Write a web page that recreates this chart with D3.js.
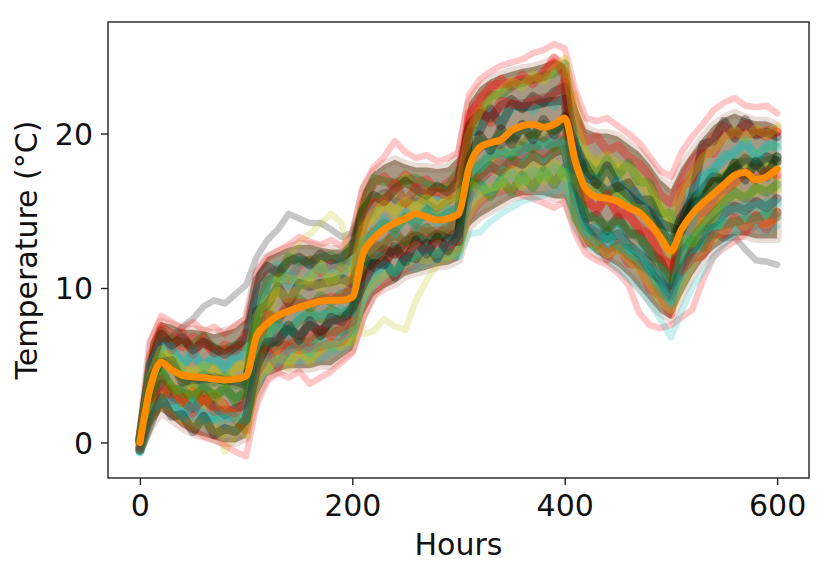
<!DOCTYPE html>
<html><head><meta charset="utf-8">
<script src="https://cdn.jsdelivr.net/npm/d3@7"></script>
<style>body{margin:0;background:#fff}svg{display:block}</style>
</head><body><svg id="c" width="832" height="577"></svg>
<script>
// ---- data ----
const hours = [0,10,20,30,40,50,60,70,80,90,100,110,120,130,140,150,160,170,180,190,200,210,220,230,240,250,260,270,280,290,300,310,320,330,340,350,360,370,380,390,400,410,420,430,440,450,460,470,480,490,500,510,520,530,540,550,560,570,580,590,600];
const xTickValues = [0,200,400,600];
const yTickValues = [0,10,20];

const meanTemp = [0,3.6,5.2,4.7,4.35,4.25,4.2,4.1,4.05,4.1,4.3,6.9,7.7,8.2,8.5,8.75,8.95,9.15,9.2,9.2,9.4,12.2,13.2,13.8,14.2,14.5,14.8,14.6,14.4,14.5,14.8,17.8,19.1,19.4,19.6,20.2,20.5,20.6,20.4,20.6,21.0,18.2,16.4,15.9,15.8,15.6,15.2,14.9,14.2,13.3,12.4,13.8,14.8,15.5,16.1,16.7,17.3,17.5,17.0,17.2,17.7];

const bandLow = [-0.5,1.0,2.0,1.5,1.0,0.6,0.4,0.2,0.0,0.0,0.3,3.0,4.3,4.6,4.8,4.8,4.8,5.0,5.0,5.5,6.0,8.2,9.5,10.0,10.3,10.8,11.0,11.2,11.4,11.5,11.8,14.0,14.6,15.0,15.4,15.8,16.0,16.0,16.0,15.8,15.8,14.0,12.8,12.2,11.8,11.4,10.8,10.0,9.2,8.4,8.0,9.5,10.8,11.8,12.5,13.0,13.4,13.4,13.2,13.2,13.2];
const bandHigh = [0.3,6.5,7.8,7.6,7.3,7.3,7.2,7.0,7.2,7.4,8.0,11.0,12.0,12.3,12.6,12.8,12.8,12.6,12.5,12.5,13.2,16.3,17.5,18.0,18.3,18.0,17.8,17.8,17.7,17.8,18.5,22.0,23.0,23.5,23.8,24.0,24.2,24.3,24.5,24.8,24.5,22.0,20.3,20.0,20.0,19.8,19.3,18.8,18.0,17.0,16.4,17.8,18.8,19.7,20.5,21.0,21.3,21.0,20.8,20.8,20.5];

const memberColors = ["#ff0000","#008000","#00bfbf","#bfbf00","#000000"];
const memberA = [0.2,5.5,7.5,7.0,6.2,6.8,6.5,5.8,6.3,6.0,6.5,9.5,10.8,11.2,10.5,11.5,11.8,11.0,11.6,11.3,12.0,15.5,16.8,17.2,16.5,17.3,16.8,17.0,16.2,16.8,17.3,21.0,22.3,22.8,23.5,23.0,23.8,23.2,24.0,24.6,24.0,21.0,19.5,19.8,18.9,19.2,18.5,18.0,17.2,16.0,15.5,17.0,18.2,19.0,19.8,20.5,20.0,20.6,20.2,19.8,20.1];
const memberB = [0.0,4.8,6.5,5.9,5.2,5.6,5.0,5.4,4.9,5.5,5.8,9.0,9.8,10.4,10.9,10.2,10.8,11.3,10.6,11.0,11.4,14.3,15.2,15.9,16.5,15.8,16.2,16.6,15.9,16.3,16.8,19.8,20.5,21.3,20.8,21.6,22.0,21.5,22.3,21.8,22.5,19.5,17.5,17.0,17.6,16.8,16.5,16.0,15.4,14.5,13.6,15.2,16.3,17.0,17.8,18.3,18.9,19.3,18.6,19.0,19.4];
const memberC = [-0.3,2.5,3.8,3.0,2.6,2.2,2.8,2.3,1.8,2.2,2.5,5.2,6.2,6.8,7.3,6.9,7.6,7.2,7.8,8.1,8.4,11.0,11.9,12.5,12.2,13.0,13.4,13.0,13.5,13.2,13.7,16.5,17.3,17.9,17.5,18.3,18.0,18.6,18.2,18.8,19.0,15.8,14.0,13.6,13.2,13.5,12.8,12.2,11.6,10.5,9.5,11.2,12.4,13.5,14.2,14.8,15.3,15.0,15.6,15.2,15.8];
const memberD = [0.1,3.8,5.5,5.0,4.2,3.8,4.4,3.9,4.3,3.7,4.0,7.5,8.4,8.0,8.8,9.3,8.7,9.5,9.1,9.6,9.8,12.8,13.6,14.2,13.8,14.6,14.2,15.0,14.5,14.8,15.2,18.5,19.6,19.2,20.0,19.6,20.3,19.9,20.6,20.2,20.8,17.8,16.2,16.6,15.9,16.3,15.6,15.0,14.6,13.5,12.6,14.0,15.2,16.0,16.6,17.2,17.8,17.3,17.9,17.5,18.2];
const memberE = [-0.5,1.5,2.6,2.0,1.5,1.0,1.4,0.8,0.6,1.0,1.2,4.0,5.0,5.5,5.2,5.8,5.5,6.0,6.4,6.2,6.8,9.5,10.4,10.9,11.2,11.6,12.0,11.8,12.3,12.0,12.4,15.0,15.8,16.2,16.7,16.5,17.0,16.8,17.3,17.0,17.5,14.6,13.2,12.8,12.2,12.6,11.9,11.2,10.3,9.2,8.6,10.2,11.6,12.4,13.2,13.8,14.3,14.0,14.4,14.1,14.6];
const memberF = [-0.4,2.0,3.2,3.5,2.8,3.3,2.7,3.0,2.4,1.5,0.8,4.5,5.6,6.0,6.6,6.2,6.8,7.3,6.9,7.5,7.8,10.5,11.3,11.8,12.4,12.0,12.8,12.5,13.0,12.7,13.2,16.0,17.0,17.6,18.3,18.0,18.8,19.2,18.7,19.3,19.8,17.0,15.6,15.2,15.8,15.0,14.6,14.0,13.3,12.2,11.2,12.8,13.9,14.8,15.5,16.3,16.8,17.5,17.0,17.6,17.3];
const memberG = [-0.6,1.8,2.9,2.3,1.9,2.4,1.8,1.5,1.9,1.4,1.7,4.8,5.6,5.2,5.9,6.3,5.8,6.5,6.1,6.8,7.2,10.0,10.8,11.5,11.0,11.8,12.2,12.6,12.2,12.9,13.3,15.8,16.6,16.2,17.0,17.4,16.9,17.6,17.2,17.8,17.5,14.8,13.5,13.0,13.4,12.8,12.3,11.8,11.0,10.0,9.0,10.8,12.0,12.9,13.6,14.4,14.0,14.7,14.3,15.0,14.6];
const memberH = [0.2,5.0,7.0,6.3,6.8,6.0,6.5,6.1,5.7,6.2,6.8,10.5,11.4,11.0,11.7,12.0,11.5,12.2,11.8,12.0,12.5,15.0,16.0,15.6,16.4,16.9,16.4,16.0,16.6,16.2,16.9,20.5,21.3,21.0,21.8,22.2,21.6,22.4,22.0,22.7,23.0,19.2,17.2,16.8,16.2,16.6,16.0,15.4,14.9,13.8,12.8,14.6,15.6,16.4,17.2,17.0,17.8,18.4,17.9,18.5,18.2];
const memberI = [0.0,3.0,4.5,3.6,3.2,3.0,3.5,3.1,3.4,2.9,3.2,6.0,7.0,7.6,7.2,7.9,8.4,8.0,8.6,8.3,8.7,11.6,12.5,12.9,13.4,13.0,13.6,13.9,13.4,14.0,14.2,17.0,18.0,18.5,18.9,18.5,19.2,19.0,19.5,19.1,19.6,16.5,14.8,14.4,14.0,14.3,13.8,13.2,12.5,11.5,10.5,12.0,13.2,14.0,14.8,15.5,16.2,15.8,16.5,16.2,16.7];
const memberJ = [0.1,4.2,6.0,5.4,4.8,4.4,5.0,4.6,4.1,4.7,5.2,8.2,9.2,9.8,9.3,10.0,10.4,10.0,10.7,10.3,10.6,13.8,14.8,15.4,15.0,15.6,15.2,15.8,15.3,15.6,16.1,20.0,21.5,22.2,22.8,23.4,23.0,23.8,23.4,24.2,24.8,20.5,18.6,18.2,18.6,18.0,17.8,17.2,16.5,15.2,14.5,16.2,17.4,18.4,19.0,19.6,20.2,19.7,20.3,19.9,20.4];
const memberK = [0.2,5.2,7.2,6.6,6.5,6.3,6.9,6.0,6.0,6.3,6.2,6.5,5.9,6.3,6.3,6.5,6.5,7.0,7.2,7.2,7.5,11.3,11.6,12.2,12.5,12.7,13.1,13.3,13.2,13.5,13.4,20.3,21.2,22.5,22.5,23.1,23.3,23.5,23.7,23.9,24.5,14.5,13.8,12.7,13.7,12.5,12.6,11.5,11.3,9.7,9.3,14.3,15.9,16.1,17.5,16.7,18.1,18.1,18.2,18.2,18.5];
const memberL = [0.1,4.5,5.7,5.7,4.5,4.7,4.7,4.9,3.8,5.0,4.9,5.5,4.7,5.8,4.9,6.1,5.2,6.3,6.1,6.5,6.5,15.3,15.7,15.9,16.1,17.2,16.1,16.3,16.3,16.5,16.6,16.8,17.0,18.2,17.2,18.6,17.7,18.9,17.9,19.1,18.7,18.3,17.2,18.1,17.1,17.9,16.7,16.9,15.7,15.3,13.9,13.1,13.6,15.1,15.2,16.6,16.5,17.8,16.7,17.9,17.0];
const memberM = [0.2,4.7,7.3,6.0,7.1,5.7,6.8,5.8,6.0,5.9,7.1,6.3,5.9,4.9,6.2,6.0,6.1,6.2,6.4,6.5,7.5,11.3,12.8,12.6,13.7,12.7,13.9,13.6,13.7,13.7,14.5,21.3,22.0,23.1,23.2,23.3,23.5,23.5,23.7,24.9,23.7,14.9,12.9,13.1,11.9,12.9,11.6,11.5,10.0,9.5,8.3,16.5,17.1,18.7,18.7,19.9,19.9,20.0,20.0,20.2,20.1];
const memberN = [0.0,5.1,6.2,6.2,4.9,5.9,4.7,5.7,4.6,5.8,5.5,9.8,10.5,11.5,10.2,11.8,11.5,11.3,11.3,11.6,11.7,12.3,11.1,11.5,11.1,11.9,11.7,12.1,12.0,12.3,12.1,16.3,16.7,17.9,18.0,18.3,18.5,19.5,18.4,19.6,19.5,19.5,16.9,17.1,15.9,16.9,15.7,15.7,14.6,14.1,12.5,13.5,13.1,13.8,13.9,15.1,15.0,15.3,15.3,15.5,15.5];
const memberO = [0.1,4.1,5.2,5.3,3.9,4.1,4.1,4.2,4.0,4.0,3.7,8.5,8.9,10.1,9.0,10.3,10.1,10.3,10.4,10.6,10.3,12.1,11.3,11.8,10.7,12.1,11.9,12.9,11.9,13.2,13.0,20.1,20.2,21.6,20.5,21.9,21.7,21.8,22.0,22.1,22.2,16.8,14.5,14.7,13.7,14.6,13.5,13.5,12.2,11.8,10.2,14.3,15.9,19.3,19.5,20.8,19.7,20.9,19.9,20.1,19.8];
const memberP = [0.0,2.7,4.8,3.3,3.5,2.7,3.8,2.8,3.7,2.6,3.5,7.7,10.5,10.7,12.0,11.7,11.8,11.9,12.1,11.7,12.8,15.2,17.1,16.9,16.8,17.0,17.1,16.7,16.5,16.5,17.6,16.7,16.8,15.9,17.0,16.2,17.3,16.5,17.6,16.7,17.8,16.7,18.1,17.3,18.3,17.3,18.1,16.9,16.8,14.9,14.8,12.7,13.1,12.6,13.9,14.1,14.3,14.4,14.6,14.7,14.9];
const memberQ = [-0.4,2.3,2.9,3.8,2.5,3.6,2.4,3.3,2.1,1.8,0.5,4.8,7.2,10.7,10.6,10.5,10.5,11.6,10.3,11.3,11.1,14.1,14.5,15.7,14.7,15.9,14.9,16.1,15.0,15.9,15.8,16.8,16.3,16.5,16.7,17.7,16.6,17.9,16.9,18.1,17.2,17.1,15.9,16.9,15.6,16.6,15.3,15.3,14.3,13.8,12.3,13.3,12.9,14.3,14.5,15.8,15.9,16.1,16.2,16.5,16.4];
const memberR = [-0.3,2.2,4.1,2.7,2.9,1.9,3.1,2.0,2.1,1.9,2.8,5.7,8.3,7.9,9.1,9.0,9.0,9.2,9.4,9.3,10.1,14.0,15.5,15.6,16.8,15.5,16.5,16.3,16.2,16.0,17.1,20.2,21.6,20.7,22.1,21.9,21.9,22.1,22.3,22.4,23.3,16.7,15.9,14.9,16.1,14.7,14.9,13.7,13.6,11.9,11.5,11.1,11.9,12.1,13.5,13.5,14.6,13.7,14.7,13.8,14.9];
const memberS = [-0.6,2.1,2.6,2.6,1.6,2.7,1.5,1.8,1.6,1.7,1.4,6.3,6.7,7.9,6.9,8.2,8.1,8.3,8.3,8.6,8.4,13.1,13.3,14.5,13.5,14.9,13.9,15.3,14.2,15.1,14.9,17.8,17.7,18.8,18.6,18.8,18.9,19.3,19.2,19.4,19.3,16.1,13.7,13.9,12.9,13.8,12.5,12.5,11.3,10.8,9.2,12.3,14.2,17.3,17.5,18.6,18.6,19.6,18.3,19.3,19.1];
const memberT = [-0.5,1.2,2.9,1.7,1.8,0.7,1.7,0.5,0.9,0.7,1.5,4.9,6.5,6.5,7.6,6.6,7.9,6.9,8.1,7.8,8.7,10.2,11.6,11.5,12.7,11.7,13.1,12.2,13.3,12.4,13.5,18.2,19.9,18.9,20.3,19.3,20.6,19.6,20.9,19.9,21.1,19.2,17.8,16.7,17.9,16.5,16.8,15.7,15.7,14.2,13.9,13.7,15.5,15.7,16.9,16.9,18.1,17.0,18.2,17.2,18.5];

const outlierColors = ["#000000","#bfbf00","#ff0000","#ff0000","#00bfbf"];
const outlierGray = [0.0,4.0,6.5,6.8,7.5,8.0,8.8,9.2,9.0,9.6,10.2,12.0,13.1,13.8,14.8,14.5,14.2,14.2,13.8,13.3,13.6,15.2,15.8,16.2,15.7,15.4,15.9,15.5,15.1,15.6,16.0,18.2,19.0,19.5,19.2,19.8,19.4,20.0,19.6,20.1,20.5,16.5,14.0,13.2,12.4,12.8,12.0,11.5,11.0,10.5,9.8,11.2,12.3,13.0,13.5,13.2,13.3,12.5,11.8,11.7,11.5];
const outlierOlive = [0.1,3.0,5.0,4.5,4.0,3.5,3.0,2.0,-0.6,0.5,1.5,6.0,8.5,10.5,12.0,13.0,13.5,14.2,14.8,14.2,11.0,7.0,7.2,8.0,7.5,7.3,9.2,10.5,11.5,12.0,12.5,16.0,17.5,18.0,18.5,19.0,19.5,19.8,20.0,20.3,21.0,22.5,19.0,17.5,16.5,16.0,15.5,15.0,14.2,13.0,11.5,13.5,15.0,16.0,17.0,17.5,18.0,18.5,18.8,19.0,19.2];
const outlierRedLow = [-0.6,1.5,2.5,2.0,1.2,0.8,0.4,0.2,-0.2,-0.6,-0.9,2.5,4.0,4.5,4.2,4.6,3.8,4.2,4.6,5.2,5.8,8.0,9.5,10.2,10.8,11.2,11.5,11.8,12.0,12.2,12.5,14.5,15.5,16.0,16.2,16.4,16.0,15.8,15.5,15.2,15.6,13.5,12.2,11.8,11.5,11.0,10.2,8.4,7.6,7.4,7.6,8.1,8.6,10.5,12.0,12.6,13.0,13.5,14.0,14.2,14.5];
const outlierRedHigh = [0.3,6.5,8.2,7.8,7.4,7.8,7.2,7.5,7.0,7.6,8.0,11.0,12.0,12.4,12.8,13.3,13.0,12.8,13.1,12.7,13.5,16.5,17.8,18.5,19.5,18.8,18.4,18.6,18.2,18.4,18.8,22.5,23.5,24.0,24.4,24.6,24.8,25.2,25.4,25.8,25.5,22.8,21.0,20.8,21.0,20.5,20.0,19.4,18.5,17.6,17.2,18.8,19.8,20.6,21.5,22.0,22.3,21.8,21.7,21.8,21.3];
const outlierCyan = [-0.4,2.2,3.5,2.8,2.0,1.6,1.2,1.5,1.0,0.8,1.0,3.5,4.8,5.0,5.4,5.2,5.6,5.3,5.8,6.0,6.5,9.0,10.2,10.8,11.0,11.4,11.2,11.6,11.8,12.0,12.2,13.5,13.6,14.3,14.8,15.2,15.6,15.8,16.0,16.2,16.6,14.0,12.8,12.4,11.8,11.2,10.6,10.0,9.0,8.0,6.8,8.5,10.0,11.0,12.0,12.8,13.5,13.8,14.0,13.6,14.0];

const members = [memberA,memberK,memberB,memberL,memberC,memberM,memberD,memberN,memberE,memberO,
                 memberF,memberP,memberG,memberQ,memberH,memberR,memberI,memberS,memberJ,memberT];
const outliers = [outlierGray,outlierOlive,outlierRedLow,outlierRedHigh,outlierCyan];

// ---- layout ----
const m = {left:108, right:809, top:22, bottom:478};
const FONT = "DejaVu Sans, sans-serif";

const x = d3.scaleLinear().domain([-30, 630]).range([m.left, m.right]);
const y = d3.scaleLinear().domain([-2.3, 27.22]).range([m.bottom, m.top]);

const svg = d3.select("#c");
svg.append("defs").append("clipPath").attr("id","clip")
  .append("rect").attr("x",m.left).attr("y",m.top)
  .attr("width",m.right-m.left).attr("height",m.bottom-m.top);

const g = svg.append("g").attr("clip-path","url(#clip)");

const area = d3.area().x((d,i)=>x(hours[i])).y0(d=>y(d[0])).y1(d=>y(d[1]));
const band = bandLow.map((v,i)=>[v, bandHigh[i]]);
// soft pale fringe around the dense core
g.append("path").datum(band).attr("d", area)
  .attr("fill","none").attr("stroke","#c89c8c").attr("stroke-opacity",0.35)
  .attr("stroke-width",9).attr("stroke-linejoin","round");
g.append("path").datum(band).attr("d", area)
  .attr("fill","#6f5836").attr("fill-opacity",0.62);

const line = d3.line().x((d,i)=>x(hours[i])).y(d=>y(d));

g.selectAll("path.out").data(outliers).join("path").attr("class","out")
  .attr("d", line).attr("fill","none")
  .attr("stroke",(d,i)=>outlierColors[i]).attr("stroke-opacity",0.22)
  .attr("stroke-width",6.5).attr("stroke-linejoin","round").attr("stroke-linecap","round");

g.selectAll("path.mem").data(members).join("path").attr("class","mem")
  .attr("d", line).attr("fill","none")
  .attr("stroke",(d,i)=>memberColors[i % memberColors.length]).attr("stroke-opacity",0.3)
  .attr("stroke-width",9).attr("stroke-linejoin","round").attr("stroke-linecap","round");

g.append("path").datum(meanTemp)
  .attr("d", d3.line().x((d,i)=>x(hours[i])).y(d=>y(d)).curve(d3.curveMonotoneX))
  .attr("fill","none").attr("stroke","#ff8c00").attr("stroke-width",7)
  .attr("stroke-linejoin","round").attr("stroke-linecap","round");

// frame
svg.append("rect").attr("x",m.left).attr("y",m.top)
  .attr("width",m.right-m.left).attr("height",m.bottom-m.top)
  .attr("fill","none").attr("stroke","#222").attr("stroke-width",1.4);

// axes
const xa = svg.append("g").attr("transform",`translate(0,${m.bottom})`)
  .call(d3.axisBottom(x).tickValues(xTickValues).tickSize(7).tickPadding(8).tickFormat(d3.format("d")));
const ya = svg.append("g").attr("transform",`translate(${m.left},0)`)
  .call(d3.axisLeft(y).tickValues(yTickValues).tickSize(7).tickPadding(8).tickFormat(d3.format("d")));
[xa, ya].forEach(a=>{
  a.select(".domain").remove();
  a.selectAll(".tick line").attr("stroke","#222").attr("stroke-width",1.4);
  a.selectAll(".tick text").attr("fill","#111").style("font-family",FONT).style("font-size","30px");
});
xa.selectAll(".tick text").attr("dy","0.73em").attr("y",16);
ya.selectAll(".tick text").attr("dy","0.36em");

svg.append("text").attr("x",(m.left+m.right)/2).attr("y",555)
  .attr("text-anchor","middle").style("font-family",FONT).style("font-size","30px").attr("fill","#111")
  .text("Hours");
svg.append("text").attr("transform",`translate(37,${(m.top+m.bottom)/2}) rotate(-90)`)
  .attr("text-anchor","middle").style("font-family",FONT).style("font-size","30px").attr("fill","#111")
  .text("Temperature (°C)");
</script>
</body></html>
